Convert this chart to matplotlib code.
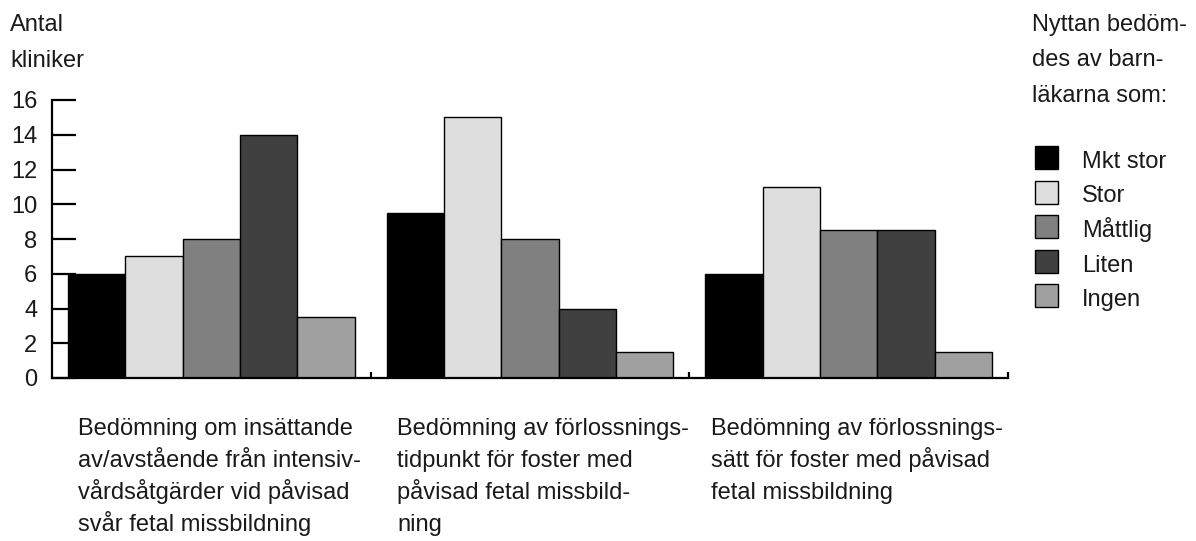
import matplotlib
matplotlib.use("Agg")
import matplotlib.pyplot as plt
import numpy as np
from matplotlib.patches import Rectangle

plt.rcParams['font.family'] = ['Liberation Sans', 'DejaVu Sans']

categories = [
    ["Bedömning om insättande", "av/avstående från intensiv-",
     "vårdsåtgärder vid påvisad", "svår fetal missbildning"],
    ["Bedömning av förlossnings-", "tidpunkt för foster med",
     "påvisad fetal missbild-", "ning"],
    ["Bedömning av förlossnings-", "sätt för foster med påvisad",
     "fetal missbildning"],
]
series = ["Mkt stor", "Stor", "Måttlig", "Liten", "Ingen"]
values = {
    "Mkt stor": [6, 9.5, 6],
    "Stor": [7, 15, 11],
    "Måttlig": [8, 8, 8.5],
    "Liten": [14, 4, 8.5],
    "Ingen": [3.5, 1.5, 1.5],
}
colors = ["#000000", "#dedede", "#808080", "#404040", "#a0a0a0"]
yticks = [0, 2, 4, 6, 8, 10, 12, 14, 16]
ylabel_lines = ["Antal", "kliniker"]
legend_title_lines = ["Nyttan bedöm-", "des av barn-", "läkarna som:"]

W, H = 1196, 541
FS = 17
TXT = '#1a1a1a'
fig = plt.figure(figsize=(W / 100, H / 100), dpi=100)
ax = fig.add_axes([52 / W, 1 - 378 / H, (1008 - 52) / W, (378 - 100) / H])

bw = 0.18
start = 0.05
for si, s in enumerate(series):
    x = np.arange(len(categories)) + start + si * bw
    ax.bar(x, values[s], width=bw, align='edge', color=colors[si],
           edgecolor='black', linewidth=1.0, zorder=2)

ax.set_xlim(0, 3)
ax.set_ylim(0, 16)
ax.set_yticks(yticks)
ax.set_yticklabels([str(t) for t in yticks], fontsize=FS, color=TXT)
ax.set_xticks([1, 2, 3])
ax.set_xticklabels([])
for side in ['top', 'right']:
    ax.spines[side].set_visible(False)
for side in ['left', 'bottom']:
    ax.spines[side].set_linewidth(1.6)
    ax.spines[side].set_zorder(3)
ax.tick_params(axis='y', direction='in', length=17, width=1.6, pad=10.5, colors='black',
               labelcolor=TXT)
ax.tick_params(axis='x', direction='in', length=4, width=1.6)


def px(x, y):
    return x / W, 1 - y / H


# category labels (left x in px, baselines in px)
cat_left = [78, 397, 711]
cat_base = [434.5, 466.8, 499.1, 531.4]
for i, lines in enumerate(categories):
    for j, line in enumerate(lines):
        fig.text(*px(cat_left[i], cat_base[j]), line, fontsize=FS, va='baseline',
                 ha='left', color=TXT)

# y label
for j, line in enumerate(ylabel_lines):
    fig.text(*px(10, 31 + j * 36), line, fontsize=FS, va='baseline', ha='left', color=TXT)

# legend title
for j, line in enumerate(legend_title_lines):
    fig.text(*px(1032, 31 + j * 35.5), line, fontsize=FS, va='baseline', ha='left', color=TXT)

# legend entries
for si, s in enumerate(series):
    yb = 168 + si * 34.5
    fig.patches.append(Rectangle(px(1035, yb + 1), 23 / W, 23 / H,
                                 transform=fig.transFigure, facecolor=colors[si],
                                 edgecolor='black', linewidth=1.0))
    fig.text(*px(1082, yb), s, fontsize=FS, va='baseline', ha='left', color=TXT)

fig.savefig("out.png", dpi=100)
